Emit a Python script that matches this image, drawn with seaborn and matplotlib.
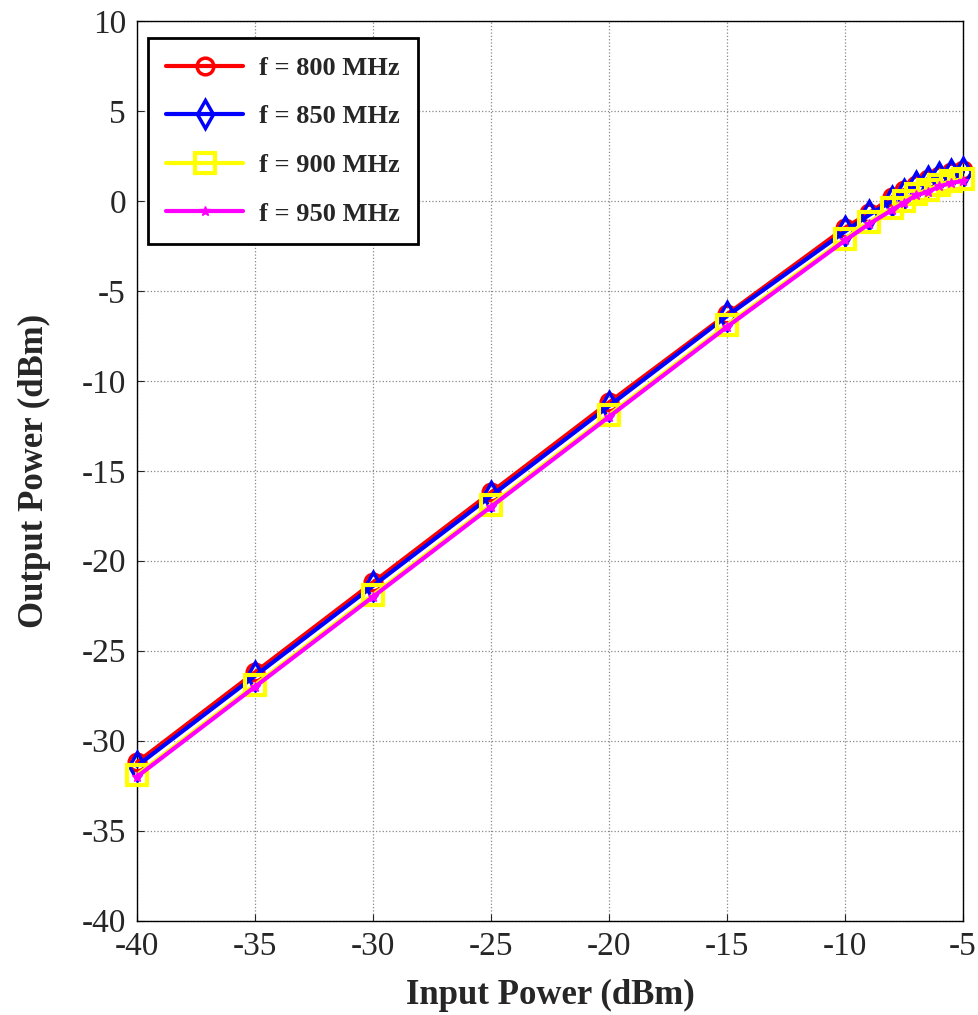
import pandas as pd
import seaborn as sns
import matplotlib.pyplot as plt

# datos
p_in = [-40, -35, -30, -25, -20, -15, -10, -9, -8, -7.5, -7, -6.5, -6, -5.5, -5]
p800 = [-31.2, -26.2, -21.2, -16.2, -11.2, -6.3, -1.5, -0.7, 0.2, 0.6, 0.9, 1.2, 1.4, 1.6, 1.7]
p850 = [-31.4, -26.4, -21.4, -16.4, -11.4, -6.4, -1.7, -0.8, 0.0, 0.4, 0.8, 1.1, 1.3, 1.5, 1.6]
p900 = [-31.9, -26.9, -21.9, -16.9, -11.9, -6.9, -2.1, -1.2, -0.4, 0.0, 0.4, 0.6, 0.9, 1.1, 1.2]
p950 = [-32.0, -27.0, -22.0, -17.0, -12.0, -7.0, -2.2, -1.3, -0.5, -0.1, 0.3, 0.5, 0.8, 1.0, 1.1]
labels = ['f = 800 MHz', 'f = 850 MHz', 'f = 900 MHz', 'f = 950 MHz']
x_ticks = [-40, -35, -30, -25, -20, -15, -10, -5]
y_ticks = [-40, -35, -30, -25, -20, -15, -10, -5, 0, 5, 10]

df = pd.DataFrame({'pin': p_in, 'f800': p800, 'f850': p850, 'f900': p900, 'f950': p950})

sns.set_style('ticks')
plt.rcParams['font.family'] = ['Liberation Serif', 'DejaVu Serif']
plt.rcParams['axes.unicode_minus'] = False

fig = plt.figure(figsize=(9.79, 10.15), dpi=100)
ax = fig.add_axes([0.140, 0.093, 0.8437, 0.8864])

# estilos de cada serie
estilos = [
    dict(color='red', marker='o', markersize=12, markerfacecolor='none', markeredgewidth=2.5),
    dict(color='blue', marker='d', markersize=14, markerfacecolor='none', markeredgewidth=2.5),
    dict(color='yellow', marker='s', markersize=14, markerfacecolor='none', markeredgewidth=3),
    dict(color='magenta', marker='*', markersize=7, markerfacecolor='magenta', markeredgewidth=1),
]
for col, lab, st in zip(['f800', 'f850', 'f900', 'f950'], labels, estilos):
    sns.lineplot(data=df, x='pin', y=col, ax=ax, label=lab, linewidth=3,
                 markeredgecolor=st['color'], clip_on=False, zorder=3, **st)

ax.set_xlim(-40, -5)
ax.set_ylim(-40, 10)
ax.set_xticks(x_ticks)
ax.set_yticks(y_ticks)
ax.tick_params(axis='both', direction='in', length=5, labelsize=24, pad=8)
ax.grid(True, linestyle=':', color='#888888', linewidth=0.9)
ax.set_axisbelow(True)
for s in ax.spines.values():
    s.set_color('black')
    s.set_linewidth(1)

ax.set_xlabel('Input Power (dBm)', fontsize=25, fontweight='bold', labelpad=12)
ax.set_ylabel('Output Power (dBm)', fontsize=25, fontweight='bold', labelpad=22)

leg = ax.legend(loc='upper left', bbox_to_anchor=(0.013, 0.981), borderaxespad=0,
                prop={'weight': 'bold', 'size': 19}, fancybox=False, framealpha=1,
                edgecolor='black', handlelength=2.9, handletextpad=0.6,
                labelspacing=0.95, borderpad=0.7)
leg.get_frame().set_linewidth(2)
leg.set_zorder(5)

plt.savefig('out.png', dpi=100)
